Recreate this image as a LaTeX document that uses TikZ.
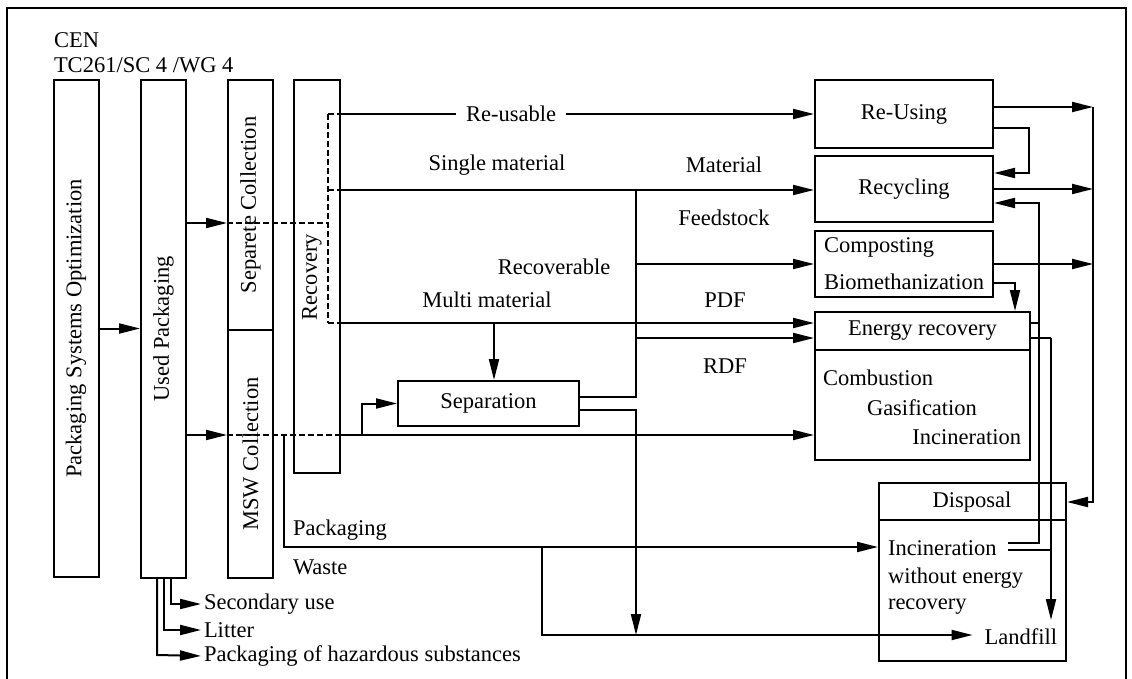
\documentclass[tikz,border=0pt]{standalone}
\usepackage{fontspec}
\setmainfont{Liberation Serif}
\usepackage{tikz}
\usetikzlibrary{arrows.meta,positioning,calc}
\tikzstyle{colbox}=[draw, line width=2pt, minimum width=45pt, inner sep=0pt]
\tikzstyle{procbox}=[draw, line width=2pt, inner sep=0pt]
\tikzstyle{lbl}=[inner sep=0pt]
\tikzstyle{rline}=[line width=2pt, dash pattern=on 6pt off 3pt]

\begin{document}
\begin{tikzpicture}[x=1pt, y=-1pt, line width=2pt, >={Triangle[length=21pt,width=10pt]},
  font=\fontsize{22.5}{26}\selectfont]
				\useasboundingbox(0,0)rectangle(1132,679);
				\draw[line width=1.4pt](7,679)--(7,8)--(1126,8)--(1126,679);
				\node[lbl, anchor=west](cen)at(53,40){CEN};
				\node[lbl, anchor=west](wg)at(53,65){TC261/SC 4 /WG 4};
				% columns
				\node[colbox, minimum height=497pt](pso)at(76,328.5){};
				\node[rotate=90](psoT)at(pso){Packaging Systems Optimization};
				\node[colbox, minimum height=498pt](used)at(163.5,329){};
				\node[rotate=90](usedT)at(used){Used Packaging};
				\node[colbox, minimum height=250pt](sepcol)at(250.5,205){};
				\node[rotate=90](sepcolT)at(sepcol){Separete Collection};
				\node[colbox, minimum height=248pt](msw)at(250.5,454){};
				\node[rotate=90](mswT)at(msw){MSW Collection};
				\node[colbox, minimum width=46pt, minimum height=393pt](recov)at(317,276.5){};
				\node[rotate=90](recovT)at(312,277){Recovery};
				% treatment boxes
				\node[procbox, minimum width=181pt, minimum height=45pt](sep)at(488.5,403.5){Separation};
				\node[procbox, minimum width=178pt, minimum height=68pt](reuse)at(904,114){Re-Using};
				\node[procbox, minimum width=178pt, minimum height=66pt](recyc)at(904,189){Recycling};
				\node[procbox, minimum width=178pt, minimum height=66pt](compost)at(904,264){};
				\node[lbl, anchor=west](compT)at(823,247){Composting};
				\node[lbl, anchor=west](bioT)at(823,282){Biomethanization};
				\node[procbox, minimum width=215pt, minimum height=148pt](energy)at(922.5,386){};
				\draw(energy.west |- 0,350)--(energy.east |- 0,350);
				\node[lbl](enT)at(922.5,331){Energy recovery};
				\node[lbl, anchor=west](combT)at(822,378){Combustion};
				\node[lbl, anchor=west](gasT)at(866,408){Gasification};
				\node[lbl, anchor=east](incT)at(1022,437){Incineration};
				\node[procbox, minimum width=187pt, minimum height=178pt](disp)at(972.5,572){};
				\draw(disp.west |- 0,520)--(disp.east |- 0,520);
				\node[lbl](dispT)at(972,502){Disposal};
				\node[lbl, anchor=west](inc2T)at(887,548){Incineration};
				\node[lbl, anchor=west](woT)at(887,578){without energy};
				\node[lbl, anchor=west](erT)at(887,607){recovery};
				\node[lbl, anchor=east](landT)at(1058,637){Landfill};
				% junctions
				\coordinate(split)at(328,223);
				\coordinate(splitTop)at(328,114);
				\coordinate(splitMid)at(328,190);
				\coordinate(splitBot)at(328,323);
				\coordinate(bus)at(636,190);
				\coordinate(busFeed)at(636,264);
				\coordinate(busRdf)at(636,338);
				\coordinate(busSep)at(636,397);
				\coordinate(sepLow)at(636,410);
				\coordinate(drop)at(494,323);
				\coordinate(mswOut)at(340,435);
				\coordinate(toSep)at(362,435);
				\coordinate(pwTop)at(284,435);
				\coordinate(pwCorner)at(284,547);
				\coordinate(lfTop)at(542,547);
				\coordinate(lfCorner)at(542,635);
				\coordinate(coll)at(1093,107);
				\coordinate(collBot)at(1093,502);
				\coordinate(loopA)at(1029,128);
				\coordinate(loopB)at(1029,173);
				\coordinate(cmpA)at(1015,283);
				\coordinate(backTop)at(1039,203);
				\coordinate(backMid)at(1039,323);
				\coordinate(backBot)at(1039,543);
				\coordinate(incA)at(1008,543);
				\coordinate(ashTop)at(1051,338);
				\coordinate(ashBot)at(1051,620);
				\coordinate(incB)at(1008,550);
				\coordinate(b1)at(171,604);
				\coordinate(b2)at(164,630);
				\coordinate(b3)at(157,655);
				% collection and recovery
				\draw[->](pso.east)--(pso.east -| used.west);
				\draw[->](used.east |- split)--(sepcol.west |- split);
				\draw[rline](sepcol.west |- split)--(split);
				\draw[rline](splitTop)--(splitBot);
				\draw[rline](splitTop)--(recov.east |- splitTop);
				\draw[rline](splitMid)--(recov.east |- splitMid);
				\draw[rline](splitBot)--(recov.east |- splitBot);
				\draw[->](recov.east |- splitTop)--(reuse.west);
				\node[lbl, fill=white, inner xsep=10pt](reusT)at(511,114){Re-usable};
				\draw[->](recov.east |- splitMid)--(recyc.west |- splitMid);
				\draw[->](recov.east |- splitBot)--(energy.west |- splitBot);
				\draw(sep.east |- busSep)--(busSep)--(bus);
				\draw[->](busFeed)--(compost.west);
				\draw[->](busRdf)--(energy.west |- busRdf);
				\draw[->](drop)--(drop |- sep.north);
				\draw[->](used.east |- mswOut)--(msw.west |- mswOut);
				\draw[rline](msw.west |- mswOut)--(mswOut);
				\draw[->](mswOut)--(energy.west |- mswOut);
				\draw[->](toSep)--(toSep |- sep.west)--(sep.west);
				\draw[->](sep.east |- sepLow)--(sepLow)--(sepLow |- lfCorner);
				\draw[->](pwTop)--(pwCorner)--(disp.west |- pwCorner);
				\draw[->](lfTop)--(lfCorner)--([xshift=-11pt]lfCorner -| landT.west);
				% flow labels
				\node[lbl](singT)at(497,165){Single material};
				\node[lbl](matT)at(724,165){Material};
				\node[lbl](feedT)at(724,218){Feedstock};
				\node[lbl](recoverT)at(554,267){Recoverable};
				\node[lbl](multT)at(487,300){Multi material};
				\node[lbl](pdfT)at(725,300){PDF};
				\node[lbl](rdfT)at(725,366){RDF};
				\node[lbl](packT)at(340,530){Packaging};
				\node[lbl, anchor=west](wasteT)at(292,567){Waste};
				% right side
				\draw[->](reuse.east |- coll)--(coll);
				\draw[->](recyc.east)--(recyc.east -| coll);
				\draw[->](compost.east)--(compost.east -| coll);
				\draw[->](coll)--(collBot)--(disp.east |- collBot);
				\draw[->](reuse.east |- loopA)--(loopA)--(loopB)--(recyc.east |- loopB);
				\draw[->](compost.east |- cmpA)--(cmpA)--(cmpA |- energy.north);
				\draw(energy.east |- backMid)--(backMid);
				\draw[->](incA)--(backBot)--(backTop)--(recyc.east |- backTop);
				\draw(energy.east |- ashTop)--(ashTop);
				\draw(incB)--(incB -| ashTop);
				\draw[->](ashTop)--(ashBot);
				% other uses
				\node[lbl, anchor=west](secT)at(203,604){Secondary use};
				\node[lbl, anchor=west](litT)at(203,630){Litter};
				\node[lbl, anchor=west](hazT)at(203,656){Packaging of hazardous substances};
				\draw[->, shorten >=2pt](used.south -| b1)--(b1)--(secT.west);
				\draw[->, shorten >=2pt](used.south -| b2)--(b2)--(litT.west);
				\draw[->, shorten >=2pt](used.south -| b3)--(b3)--(hazT.west);
			\end{tikzpicture}
\end{document}
